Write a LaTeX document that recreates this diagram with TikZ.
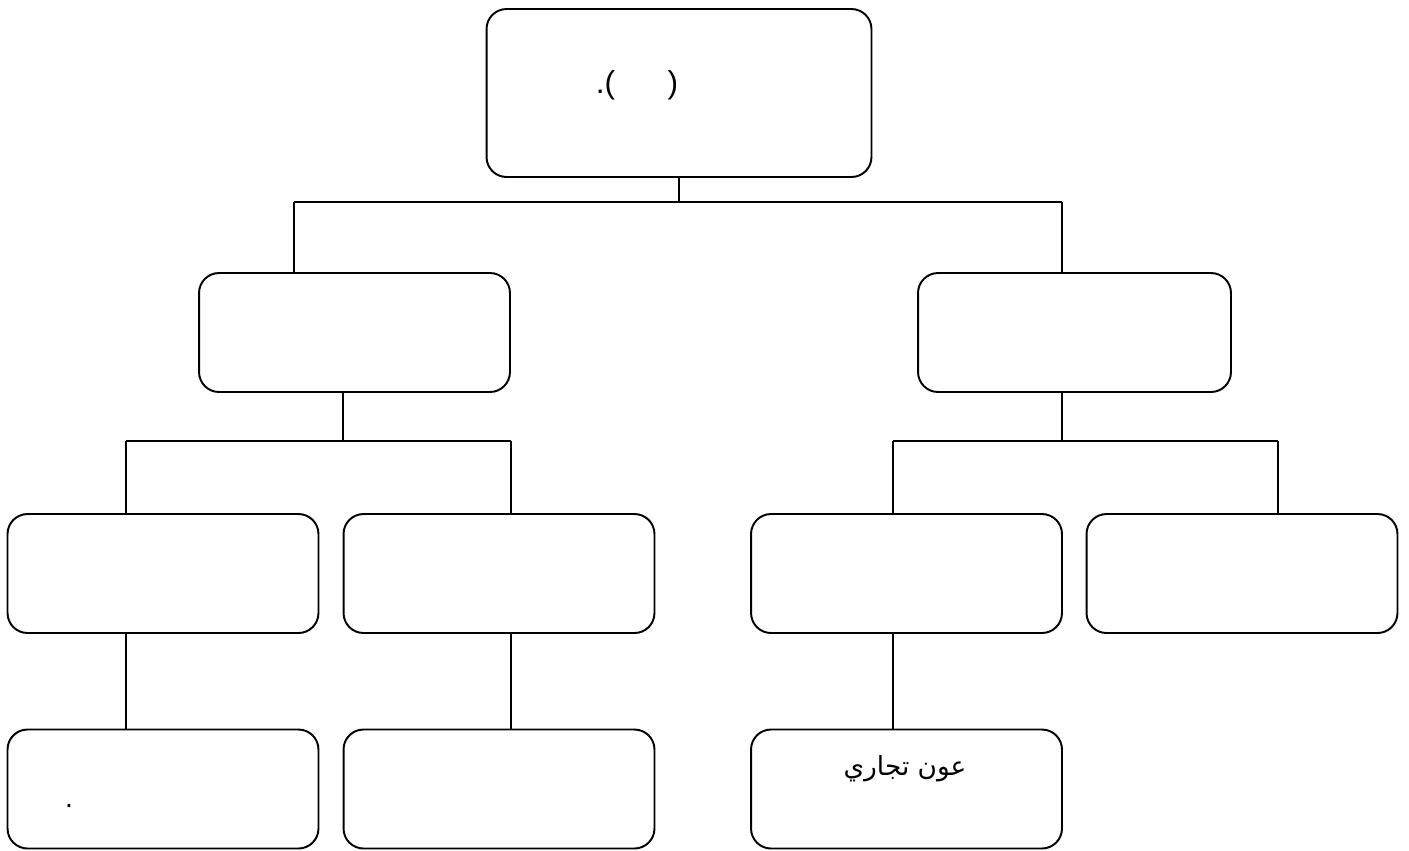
\documentclass[tikz,border=0pt]{standalone}
\usepackage{fontspec}
\setmainfont{Liberation Sans}
\newfontfamily\arabicfont[Script=Arabic]{DejaVu Sans}
\TeXXeTstate=1
\usetikzlibrary{positioning,calc}

\begin{document}
\begin{tikzpicture}
[x=0.02cm,y=-0.02cm,
box/.style={draw,rectangle,rounded corners=0.4cm,line width=1.1pt,inner sep=0pt,minimum height=2.38cm,minimum width=6.22cm},
link/.style={line width=1.1pt},
txt/.style={font=\fontsize{16}{19}\selectfont,inner sep=0pt}]
\useasboundingbox (0,0) rectangle (1409,850);
%%
%%%%%%%%%%%%%%%%%%
% top box
%%%%%%%%%%%%%%%%%%
\node[box,minimum width=7.7cm,minimum height=3.36cm] (top) at (679,93) {};
\node[txt,font=\fontsize{18}{21}\selectfont] (toptxt) at (637,85) {.(\hspace{1.05cm})};
%%
%%%%%%%%%%%%%%%%%%
% second row
%%%%%%%%%%%%%%%%%%
\node[box] (mL) at (354.5,332.5) {};
\node[box,minimum width=6.26cm] (mR) at (1074.5,332.5) {};
%%
%%%%%%%%%%%%%%%%%%
% third row
%%%%%%%%%%%%%%%%%%
\node[box] (rA) at (163,573.5) {};
\node[box] (rB) at (499,573.5) {};
\node[box] (rC) at (906.5,573.5) {};
\node[box] (rD) at (1242,573.5) {};
%%
%%%%%%%%%%%%%%%%%%
% fourth row
%%%%%%%%%%%%%%%%%%
\node[box] (sA) at (163,789) {};
\node[box] (sB) at (499,789) {};
\node[box] (sC) at (906.5,789) {};
\node[txt] (dot) at (69,806) {.};
\node[txt,font=\fontsize{15}{18}\selectfont] (agent) at (905,769) {\arabicfont\beginR عون تجاري\endR};
%%
%%%%%%%%%%%%%%%%%%
% links
%%%%%%%%%%%%%%%%%%
%% top -> second row
\coordinate (jT) at (679,202);
\coordinate (jTL) at (294,202);
\coordinate (jTR) at (1062,202);
\draw[link] (top.south) -- (jT);
\draw[link] (jTL) -- (jTR);
\draw[link] (jTL) -- (jTL |- mL.north);
\draw[link] (jTR) -- (jTR |- mR.north);
%% left -> third row
\coordinate (jL) at (343,441);
\coordinate (jLA) at (126,441);
\coordinate (jLB) at (511,441);
\draw[link] (jL |- mL.south) -- (jL);
\draw[link] (jLA) -- (jLB);
\draw[link] (jLA) -- (jLA |- rA.north);
\draw[link] (jLB) -- (jLB |- rB.north);
%% right -> third row
\coordinate (jR) at (1062,441);
\coordinate (jRC) at (893,441);
\coordinate (jRD) at (1278,441);
\draw[link] (jR |- mR.south) -- (jR);
\draw[link] (jRC) -- (jRD);
\draw[link] (jRC) -- (jRC |- rC.north);
\draw[link] (jRD) -- (jRD |- rD.north);
%% third row -> fourth row
\draw[link] (jLA |- rA.south) -- (jLA |- sA.north);
\draw[link] (jLB |- rB.south) -- (jLB |- sB.north);
\draw[link] (jRC |- rC.south) -- (jRC |- sC.north);
%%
\end{tikzpicture}
\end{document}
